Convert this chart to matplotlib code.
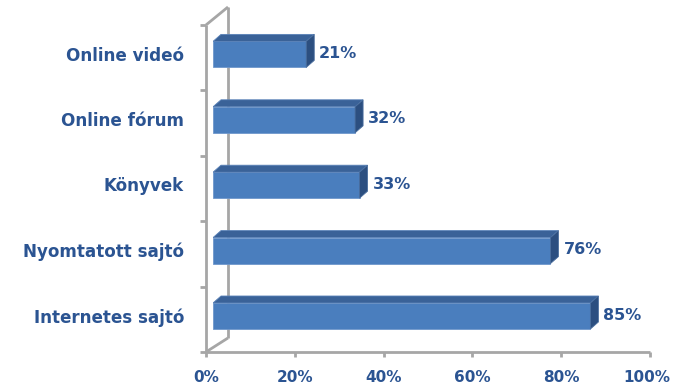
import matplotlib
matplotlib.use("Agg")
import matplotlib.pyplot as plt
from matplotlib.patches import Polygon

categories = ["Internetes sajtó", "Nyomtatott sajtó", "Könyvek", "Online fórum", "Online videó"]
values = [85, 76, 33, 32, 21]
xticks = [0, 20, 40, 60, 80, 100]
xticklabels = ["0%", "20%", "40%", "60%", "80%", "100%"]

W, H = 673, 389
fig = plt.figure(figsize=(W / 100, H / 100), dpi=100)
# pixel scale: 4.44 px per %, 65.4 px per category
px_x = 4.44
px_y = 65.4
x0_px = 213
y0_px = 316
ax = fig.add_axes([x0_px / W, 0, 100 * px_x / W, 1])
ax.set_xlim(0, 100)
ax.set_ylim((y0_px - H) / px_y, y0_px / px_y)
ax.axis("off")

txt_col = "#2B5492"
grey = "#A6A6A6"
front_col = "#4A7EBE"
top_col = "#3A6298"
side_col = "#2C4F80"

# depth of bars
ddx = 8 / px_x
ddy = 7 / px_y
bh = 26 / px_y

# front plane offset (floor/axes)
fx = -7 / px_x
fy = -0.55
n = len(categories)
# back wall offset
wdx = 22 / px_x
wdy_top = 18 / px_y
wdy_bot = 14 / px_y

lw = 2.0
kw = dict(color=grey, lw=lw, clip_on=False, solid_capstyle="butt", zorder=1)
# front left axis
ax.plot([fx, fx], [fy, fy + n], **kw)
# back wall vertical
ax.plot([fx + wdx, fx + wdx], [fy + wdy_bot, fy + n + wdy_top], **kw)
# connecting lines
ax.plot([fx, fx + wdx], [fy + n, fy + n + wdy_top], **kw)
ax.plot([fx, fx + wdx], [fy, fy + wdy_bot], **kw)
# floor front line
ax.plot([fx, fx + 100], [fy, fy], **kw)
# left ticks
for i in range(n + 1):
    ax.plot([fx - 6 / px_x, fx], [fy + i, fy + i], **kw)
# bottom ticks and labels
for t, lab in zip(xticks, xticklabels):
    ax.plot([fx + t, fx + t], [fy, fy - 5 / px_y], **kw)
    ax.text(fx + t - (3 / px_x if t == 100 else 0), fy - 26 / px_y, lab,
            ha="center", va="center",
            fontsize=11, fontweight="bold", color=txt_col, clip_on=False)

# category labels
for i, c in enumerate(categories):
    ax.text(fx - 22 / px_x, fy + i + 0.5 + 2 / px_y, c, ha="right", va="center",
            fontsize=12.1, fontweight="bold", color=txt_col, clip_on=False)

# bars
for i, v in enumerate(values):
    yb = i - bh / 2
    yt = i + bh / 2
    ax.barh(i, v, height=bh, left=0, color=front_col, edgecolor="#6F97CC",
            linewidth=0.6, zorder=3)
    top = Polygon([(0, yt), (v, yt), (v + ddx, yt + ddy), (ddx, yt + ddy)],
                  closed=True, facecolor=top_col, edgecolor="#5A82B8", lw=0.6, zorder=3)
    side = Polygon([(v, yb), (v + ddx, yb + ddy), (v + ddx, yt + ddy), (v, yt)],
                   closed=True, facecolor=side_col, edgecolor="#4A6E9E", lw=0.6, zorder=3)
    ax.add_patch(top)
    ax.add_patch(side)
    ax.text(v + ddx + 5 / px_x, i + 1 / px_y, f"{v}%", ha="left", va="center",
            fontsize=11.5, fontweight="bold", color=txt_col, clip_on=False)

fig.savefig("out.png", dpi=100)
